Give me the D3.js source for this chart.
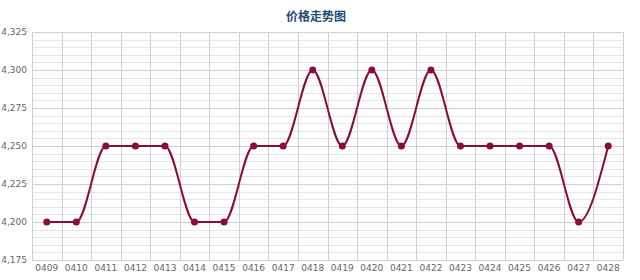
<!DOCTYPE html>
<html>
<head>
<meta charset="utf-8">
<script src="https://cdn.jsdelivr.net/npm/d3@7"></script>
<style>
  body { margin: 0; background: #fff; }
  svg text { font-family: "DejaVu Sans", "Noto Sans CJK SC", sans-serif; }
</style>
</head>
<body>
<div id="chart"></div>
<script>
// data
var dates = ["0409", "0410", "0411", "0412", "0413", "0414", "0415", "0416", "0417", "0418",
    "0419", "0420", "0421", "0422", "0423", "0424", "0425", "0426", "0427", "0428"];
var prices = [4200, 4200, 4250, 4250, 4250, 4200, 4200, 4250, 4250, 4300,
    4250, 4300, 4250, 4300, 4250, 4250, 4250, 4250, 4200, 4250];
var yTicks = [4175, 4200, 4225, 4250, 4275, 4300, 4325];

var margin = {
        top: 32,
        right: 17,
        bottom: 20,
        left: 32
    },
    width = 640 - margin.left - margin.right,
    height = 280 - margin.top - margin.bottom;

var svg = d3.select("#chart").append("svg")
    .attr("width", 640)
    .attr("height", 280);

svg.append("text")
    .attr("x", 316)
    .attr("y", 21)
    .attr("text-anchor", "middle")
    .style("font-family", "'Noto Sans CJK SC', sans-serif")
    .style("font-size", "12px")
    .style("font-weight", "bold")
    .style("fill", "#274b6d")
    .text("价格走势图");

var g = svg.append("g")
    .attr("transform", "translate(" + margin.left + "," + margin.top + ")");

var x = d3.scaleBand()
    .domain(dates)
    .range([0, width]);

var y = d3.scaleLinear()
    .domain([4175, 4325])
    .range([height, 0]);

// minor horizontal grid (every 5)
var minor = d3.range(4175, 4326, 5).filter(function(v) { return yTicks.indexOf(v) < 0; });
g.selectAll("line.minor").data(minor).enter().append("line")
    .attr("class", "minor")
    .attr("x1", 0).attr("x2", width)
    .attr("y1", function(d) { return Math.round(y(d)) + 0.5; })
    .attr("y2", function(d) { return Math.round(y(d)) + 0.5; })
    .style("stroke", "#e6e6e6");

// major horizontal grid
g.selectAll("line.major").data(yTicks).enter().append("line")
    .attr("class", "major")
    .attr("x1", 0).attr("x2", width)
    .attr("y1", function(d) { return Math.round(y(d)) + 0.5; })
    .attr("y2", function(d) { return Math.round(y(d)) + 0.5; })
    .style("stroke", "#cfcfcf");

// vertical grid at band edges
var edges = dates.map(function(d) { return x(d); }).concat([width]);
g.selectAll("line.vgrid").data(edges).enter().append("line")
    .attr("class", "vgrid")
    .attr("y1", 0).attr("y2", height)
    .attr("x1", function(d) { return Math.round(d) + 0.5; })
    .attr("x2", function(d) { return Math.round(d) + 0.5; })
    .style("stroke", "#d0d0d0");

// y labels
g.selectAll("text.ylab").data(yTicks).enter().append("text")
    .attr("class", "ylab")
    .attr("x", -5)
    .attr("y", function(d) { return y(d) + 3; })
    .attr("text-anchor", "end")
    .style("font-size", "9px")
    .style("fill", "#666")
    .text(function(d) { return d3.format(",")(d); });

// x labels
g.selectAll("text.xlab").data(dates).enter().append("text")
    .attr("class", "xlab")
    .attr("x", function(d) { return x(d) + x.bandwidth() / 2; })
    .attr("y", height + 11)
    .attr("text-anchor", "middle")
    .style("font-size", "9px")
    .style("fill", "#666")
    .text(function(d) { return d; });

var line = d3.line()
    .x(function(d, i) { return x(dates[i]) + x.bandwidth() / 2; })
    .y(function(d) { return y(d); })
    .curve(d3.curveMonotoneX);

g.append("path")
    .datum(prices)
    .attr("d", line)
    .style("fill", "none")
    .style("stroke", "#8b0b3d")
    .style("stroke-width", 2);

g.selectAll("circle.pt").data(prices).enter().append("circle")
    .attr("class", "pt")
    .attr("cx", function(d, i) { return x(dates[i]) + x.bandwidth() / 2; })
    .attr("cy", function(d) { return y(d); })
    .attr("r", 3.5)
    .style("fill", "#8b0b3d");
</script>
</body>
</html>
